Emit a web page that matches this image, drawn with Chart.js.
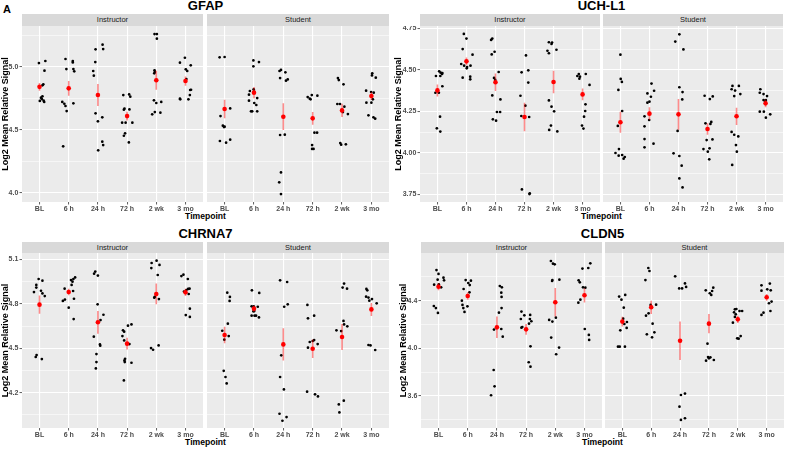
<!DOCTYPE html>
<html><head><meta charset="utf-8">
<script src="https://cdn.jsdelivr.net/npm/chart.js@4.4.0/dist/chart.umd.min.js"></script>
<style>
html,body{margin:0;padding:0;background:#fff}
body{width:787px;height:449px;overflow:hidden;position:relative;font-family:'Liberation Sans',Arial,sans-serif}
canvas{position:absolute}
.tx{position:absolute;white-space:nowrap;line-height:1}
.strip{position:absolute;background:#D9D9D9;color:#1A1A1A;font-size:7.5px;text-align:center;white-space:nowrap}
</style></head><body>
<script>
// ---------- text ----------
const panelLetter = 'A';
const categories = ['BL', '6 h', '24 h', '72 h', '2 wk', '3 mo'];
const facetNames = ['Instructor', 'Student'];
const xAxisTitle = 'Timepoint';
const yAxisTitle = 'Log2 Mean Relative Signal';
const geneTitles = ['GFAP', 'UCH-L1', 'CHRNA7', 'CLDN5'];

// ---------- y ticks ----------
const gfapYTicks = [4.0, 4.5, 5.0];
const gfapYTickLabels = ['4.0', '4.5', '5.0'];
const gfapYMinor = [4.25, 4.75, 5.25];
const uchl1YTicks = [3.75, 4.0, 4.25, 4.5, 4.75];
const uchl1YTickLabels = ['3.75', '4.00', '4.25', '4.50', '4.75'];
const uchl1YMinor = [3.875, 4.125, 4.375, 4.625];
const chrna7YTicks = [4.2, 4.5, 4.8, 5.1];
const chrna7YTickLabels = ['4.2', '4.5', '4.8', '5.1'];
const chrna7YMinor = [4.05, 4.35, 4.65, 4.95];
const cldn5YTicks = [3.6, 4.0, 4.4];
const cldn5YTickLabels = ['3.6', '4.0', '4.4'];
const cldn5YMinor = [3.4, 3.8, 4.2, 4.6];

// ---------- GFAP ----------
const gfapInstructorValues = [
  [5.029,5.045,4.968,4.860,4.852,4.765,4.754,4.743,4.728,4.730,4.720],
  [5.061,5.045,5.034,4.981,4.981,4.963,4.720,4.706,4.688,4.648,4.709,4.368],
  [5.175,5.140,5.138,5.037,4.966,4.929,4.630,4.598,4.566,4.405,4.378,4.336],
  [4.775,4.780,4.762,4.667,4.659,4.661,4.556,4.556,4.556,4.471,4.452,4.399],
  [5.259,5.259,5.222,4.971,4.958,4.947,4.733,4.720,4.712,4.635,4.640,4.622],
  [5.071,5.032,5.011,4.979,4.966,4.902,4.815,4.817,4.775,4.746,4.741,4.741]
];
const gfapInstructorJitter = [
  [-0.02,0.20,0.17,0.13,0.10,0.10,0.05,0.08,0.01,0.14,0.16],
  [-0.11,0.14,0.14,-0.08,0.16,0.19,-0.22,-0.15,-0.11,-0.07,0.16,-0.19],
  [0.16,0.18,-0.08,-0.09,-0.16,-0.14,-0.08,0.15,0,0.15,0.18,0.01],
  [-0.13,0.07,0.11,-0.09,-0.11,0.08,-0.17,-0.05,0.18,-0.07,-0.11,0.06],
  [-0.06,0.02,0.02,-0.06,-0.05,-0.07,-0.08,0.17,0,0.14,-0.05,-0.14],
  [-0.02,-0.19,0.18,0.01,0.06,0.03,0.16,0.19,0.15,-0.19,-0.18,0.10]
];
const gfapInstructorMean = [4.840,4.828,4.775,4.608,4.892,4.886];
const gfapInstructorSE = [0.030,0.058,0.087,0.035,0.075,0.037];

const gfapStudentValues = [
  [5.074,5.077,4.669,4.608,4.532,4.521,4.524,4.410,4.397,4.421],
  [5.050,5.037,5.003,4.820,4.807,4.802,4.778,4.751,4.730,4.712,4.696,4.646,4.646,4.646],
  [4.974,4.966,4.955,4.910,4.899,4.889,4.458,4.460,4.161,4.082,3.989],
  [4.775,4.759,4.746,4.741,4.770,4.476,4.476,4.378,4.347,4.347],
  [4.910,4.894,4.860,4.704,4.704,4.683,4.640,4.624,4.394,4.381,4.384],
  [4.947,4.931,4.913,4.810,4.799,4.794,4.741,4.714,4.714,4.614,4.598,4.587]
];
const gfapStudentJitter = [
  [-0.17,0,0.19,-0.14,-0.06,-0.02,0,-0.16,0.05,0.19],
  [-0.02,0.17,-0.02,-0.01,-0.14,0,-0.17,0.11,-0.17,0.01,0.08,-0.10,-0.06,0.11],
  [-0.08,-0.13,0.07,-0.11,0.15,0.09,-0.11,0.05,-0.08,-0.14,-0.08],
  [-0.03,-0.17,-0.10,-0.07,0.16,0.06,0.15,-0.02,-0.02,0.03],
  [-0.14,-0.11,0.05,-0.16,-0.07,0.08,0.03,0.20,-0.06,-0.03,0.13],
  [0.03,0.02,0.15,-0.18,-0.01,0.08,0.05,-0.17,0,-0.10,0.07,0.13]
];
const gfapStudentMean = [4.664,4.794,4.603,4.590,4.653,4.767];
const gfapStudentSE = [0.074,0.045,0.106,0.050,0.053,0.032];

// ---------- UCH-L1 ----------
const uchl1InstructorValues = [
  [4.491,4.483,4.481,4.475,4.463,4.463,4.401,4.362,4.362,4.218,4.148,4.128],
  [4.716,4.688,4.625,4.591,4.535,4.525,4.525,4.517,4.509,4.459,4.443,4.453],
  [4.680,4.688,4.609,4.593,4.487,4.451,4.439,4.346,4.322,4.246,4.246,4.202,4.194],
  [4.587,4.485,4.497,4.423,4.344,4.284,4.222,4.216,3.780,3.756,3.752],
  [4.666,4.664,4.656,4.615,4.600,4.621,4.316,4.278,4.250,4.164,4.138,4.129],
  [4.463,4.475,4.459,4.447,4.475,4.409,4.292,4.252,4.218,4.164,4.146]
];
const uchl1InstructorJitter = [
  [0.06,0.11,0.17,0.16,-0.05,0.10,0.17,-0.07,0.05,0.09,-0.02,0.10],
  [-0.09,0,-0.13,0.21,-0.18,-0.08,0.14,0.02,0.01,0.13,0.13,-0.13],
  [-0.15,-0.11,-0.03,-0.13,0.11,-0.05,-0.01,-0.11,0.17,0.05,0.16,-0.09,0.02],
  [0.05,-0.10,0.13,0.13,-0.14,0.03,-0.11,0.16,-0.09,0.18,0.17],
  [-0.16,-0.05,-0.07,-0.21,-0.16,0.10,-0.16,-0.07,0.02,-0.09,-0.15,0.13],
  [-0.18,-0.13,-0.09,-0.11,0.11,0.24,0.10,0.09,0.05,-0.02,0.03]
];
const uchl1InstructorMean = [4.376,4.551,4.425,4.216,4.427,4.352];
const uchl1InstructorSE = [0.036,0.024,0.053,0.086,0.068,0.035];

const uchl1StudentValues = [
  [4.591,4.445,4.427,4.379,4.252,4.162,4.023,3.999,3.983,3.987,3.975,3.965],
  [4.417,4.358,4.374,4.338,4.308,4.302,4.220,4.198,4.160,4.083,4.055,4.033],
  [4.714,4.670,4.623,4.395,4.366,4.322,4.132,3.997,3.981,3.923,3.846,3.792],
  [4.344,4.324,4.340,4.178,4.186,4.174,4.077,4.081,4.023,4.027,4.007,3.961],
  [4.403,4.403,4.383,4.375,4.354,4.342,4.126,4.109,4.099,4.047,4.007,3.927],
  [4.383,4.362,4.354,4.342,4.318,4.318,4.308,4.248,4.248,4.232,4.212]
];
const uchl1StudentJitter = [
  [0,0.01,0.05,-0.07,0.06,-0.09,-0.05,-0.17,-0.06,0.06,0.15,0.11],
  [0.07,-0.07,0.16,0.05,0,-0.07,-0.17,-0.01,-0.17,-0.17,0.14,-0.17],
  [0.03,-0.11,0.17,0.03,0.14,0.13,-0.03,-0.17,0.03,0.11,0.03,0.14],
  [-0.10,0.08,0.18,-0.07,0.13,0.10,-0.03,0.17,-0.14,0.07,0.01,0.06],
  [-0.14,0.08,-0.17,-0.05,0.13,-0.08,-0.17,-0.08,0.06,-0.02,0.01,-0.15],
  [-0.18,-0.20,-0.07,0.05,-0.07,0.01,-0.01,-0.20,-0.06,0.16,0.01]
];
const uchl1StudentMean = [4.184,4.236,4.232,4.144,4.220,4.298];
const uchl1StudentSE = [0.063,0.038,0.093,0.035,0.052,0.024];

// ---------- CHRNA7 ----------
const chrna7InstructorValues = [
  [4.967,4.956,4.927,4.909,4.888,4.879,4.870,4.852,4.454,4.441,4.427],
  [4.978,4.967,4.960,4.949,4.927,4.902,4.886,4.828,4.819,4.834,4.774,4.697],
  [5.017,5.003,4.990,4.796,4.726,4.690,4.578,4.526,4.517,4.461,4.407,4.364],
  [4.661,4.652,4.621,4.612,4.582,4.553,4.528,4.429,4.418,4.407,4.402,4.283],
  [5.091,5.075,5.062,5.041,4.994,4.846,4.841,4.832,4.501,4.490,4.519],
  [4.996,4.987,4.967,4.900,4.902,4.893,4.882,4.866,4.767,4.724,4.711]
];
const chrna7InstructorJitter = [
  [-0.03,0.10,-0.11,-0.11,0.05,-0.19,0.10,0.18,-0.10,-0.13,0.08],
  [0.22,0.16,0.08,0.13,0.10,-0.14,0.15,-0.13,-0.20,0.18,0,0.17],
  [-0.09,-0.13,0,-0.01,0.19,0.09,-0.14,0.07,0.08,-0.05,-0.05,-0.07],
  [0.15,0.03,-0.14,-0.10,-0.16,-0.10,0.08,-0.07,-0.09,-0.08,0.15,-0.11],
  [0.01,-0.16,0.11,-0.17,0.05,-0.05,-0.07,0.09,-0.18,-0.11,0.08],
  [-0.07,-0.14,0.08,0.09,0.14,0.03,-0.05,0.11,0.15,0.01,0.15]
];
const chrna7InstructorMean = [4.794,4.879,4.675,4.531,4.866,4.877];
const chrna7InstructorSE = [0.062,0.022,0.077,0.040,0.070,0.025];

const chrna7StudentValues = [
  [4.875,4.846,4.819,4.666,4.618,4.582,4.558,4.348,4.306,4.263],
  [4.891,4.873,4.783,4.783,4.780,4.751,4.749,4.720,4.720,4.720,4.708],
  [4.958,4.947,4.796,4.780,4.452,4.306,4.222,4.058,4.036,4.011],
  [4.792,4.720,4.702,4.555,4.549,4.542,4.528,4.504,4.207,4.189,4.175],
  [4.936,4.909,4.902,4.684,4.661,4.648,4.621,4.616,4.146,4.121,4.067],
  [4.900,4.891,4.848,4.842,4.832,4.821,4.803,4.522,4.519,4.488]
];
const chrna7StudentJitter = [
  [0.09,0.18,0.17,0.11,-0.08,0.14,-0.01,-0.03,0.03,0.07],
  [-0.07,0.18,-0.08,-0.01,0.13,0.01,-0.02,-0.08,0.02,0.07,0.17],
  [-0.11,0.13,0.15,0.03,-0.07,-0.11,0.02,-0.13,0.11,-0.03],
  [-0.18,0.05,-0.16,0.05,0,-0.10,0.17,-0.16,-0.19,0.08,0.18],
  [0.07,0.02,0.17,0.05,0.07,0.18,-0.19,-0.03,0.06,-0.11,-0.09],
  [-0.17,-0.14,-0.18,-0.10,0.02,-0.07,0.18,-0.10,-0.03,0.13]
];
const chrna7StudentMean = [4.589,4.767,4.526,4.497,4.576,4.762];
const chrna7StudentSE = [0.056,0.020,0.109,0.062,0.088,0.044];

// ---------- CLDN5 ----------
const cldn5InstructorValues = [
  [4.657,4.624,4.576,4.593,4.571,4.534,4.537,4.512,4.355,4.338,4.297],
  [4.573,4.568,4.548,4.531,4.498,4.470,4.400,4.364,4.338,4.352,4.305],
  [4.523,4.512,4.467,4.431,4.338,4.299,4.157,4.162,4.098,3.818,3.681,3.606],
  [4.308,4.277,4.280,4.246,4.246,4.227,4.207,4.179,4.173,4.017,3.883,3.846],
  [4.733,4.710,4.705,4.573,4.565,4.576,4.238,4.224,4.257,4.090,4.006,3.950],
  [4.669,4.674,4.571,4.554,4.512,4.509,4.383,4.408,4.162,4.112,4.070,4.713]
];
const cldn5InstructorJitter = [
  [-0.07,0,-0.03,0.17,0.19,-0.15,0.01,0.09,-0.16,-0.09,-0.02],
  [-0.07,0.11,0.02,0.07,-0.14,0.06,-0.20,-0.18,-0.15,-0.01,-0.11],
  [0.10,0.17,0.15,0.16,0.16,0.07,-0.10,0.15,0.20,-0.11,-0.08,-0.20],
  [-0.16,-0.06,0.14,-0.18,0.13,0.18,0.10,-0.13,-0.16,0.15,0.09,0.15],
  [-0.15,-0.08,-0.02,-0.10,-0.11,0.14,-0.21,-0.10,0.02,-0.14,0.13,0.03],
  [-0.07,0.13,-0.20,-0.16,-0.05,0.03,-0.21,-0.14,0.01,0.15,0.16,0.20]
];
const cldn5InstructorMean = [4.517,4.439,4.176,4.159,4.386,4.445];
const cldn5InstructorSE = [0.030,0.032,0.090,0.045,0.120,0.060];

const cldn5StudentValues = [
  [4.448,4.434,4.408,4.341,4.249,4.221,4.204,4.171,4.151,4.014,4.014,4.014],
  [4.674,4.649,4.573,4.366,4.364,4.294,4.274,4.207,4.134,4.117,4.092],
  [4.604,4.545,4.515,4.503,4.503,3.608,3.620,3.510,3.399,3.413],
  [4.487,4.509,4.481,4.462,4.448,4.039,3.927,3.916,3.924,3.896,3.902],
  [4.327,4.330,4.313,4.313,4.302,4.285,4.263,4.215,4.084,4.081,4.103],
  [4.529,4.543,4.484,4.495,4.487,4.392,4.378,4.299,4.280,4.313]
];
const cldn5StudentJitter = [
  [0.10,-0.11,-0.03,0.05,0.03,0.16,0.07,0.15,-0.07,-0.15,-0.09,0.09],
  [-0.10,-0.06,-0.20,0.17,-0.02,-0.09,-0.18,0.05,0.11,-0.15,0.03],
  [-0.17,0.17,0.21,-0.03,0.07,0.03,0.17,-0.02,0.03,0.17],
  [-0.11,0.15,0.11,0.03,0.08,-0.05,-0.03,0,0.05,-0.10,0.17],
  [-0.10,-0.05,0.06,0.15,-0.13,-0.07,-0.10,-0.17,-0.02,0.03,0.10],
  [-0.18,0.11,-0.18,0.02,0.14,0.17,0.08,-0.11,-0.18,0.13]
];
const cldn5StudentMean = [4.224,4.344,4.064,4.207,4.243,4.428];
const cldn5StudentSE = [0.040,0.056,0.162,0.080,0.030,0.028];

// ---------- layout (positions / styles) ----------
const FONT = "'Liberation Sans', Arial, sans-serif";
const panels = [
  {title: geneTitles[0], left: 0, plotTop: 26, plotBottom: 202, stripTop: 14, inst: [22, 203], stud: [207, 389],
   yMin: 3.926, yMax: 5.323, ticks: gfapYTicks, labels: gfapYTickLabels, minor: gfapYMinor, titlePad: 0.2,
   titleBase: 10, xTitleBase: 219.5,
   data: [[gfapInstructorValues, gfapInstructorJitter, gfapInstructorMean, gfapInstructorSE],
          [gfapStudentValues, gfapStudentJitter, gfapStudentMean, gfapStudentSE]]},
  {title: geneTitles[1], left: 390, plotTop: 26, plotBottom: 202, stripTop: 14, inst: [420, 600], stud: [603, 783],
   yMin: 3.704, yMax: 4.764, ticks: uchl1YTicks, labels: uchl1YTickLabels, minor: uchl1YMinor, titlePad: 3.1,
   titleBase: 10, xTitleBase: 219.5,
   data: [[uchl1InstructorValues, uchl1InstructorJitter, uchl1InstructorMean, uchl1InstructorSE],
          [uchl1StudentValues, uchl1StudentJitter, uchl1StudentMean, uchl1StudentSE]]},
  {title: geneTitles[2], left: 0, plotTop: 253, plotBottom: 428, stripTop: 242, inst: [22, 203], stud: [207, 389],
   yMin: 3.962, yMax: 5.1425, ticks: chrna7YTicks, labels: chrna7YTickLabels, minor: chrna7YMinor, titlePad: 0.2,
   titleBase: 238, xTitleBase: 445,
   data: [[chrna7InstructorValues, chrna7InstructorJitter, chrna7InstructorMean, chrna7InstructorSE],
          [chrna7StudentValues, chrna7StudentJitter, chrna7StudentMean, chrna7StudentSE]]},
  {title: geneTitles[3], left: 390, plotTop: 253, plotBottom: 428, stripTop: 242, inst: [421, 602], stud: [605, 784],
   yMin: 3.331, yMax: 4.80, ticks: cldn5YTicks, labels: cldn5YTickLabels, minor: cldn5YMinor, titlePad: 8.0,
   titleBase: 238, xTitleBase: 445,
   data: [[cldn5InstructorValues, cldn5InstructorJitter, cldn5InstructorMean, cldn5InstructorSE],
          [cldn5StudentValues, cldn5StudentJitter, cldn5StudentMean, cldn5StudentSE]]}
];
const X_AXIS_H = 12;

const bgPlugin = {
  id: 'panelBg',
  beforeDraw(chart) {
    const {ctx, chartArea: a} = chart;
    ctx.save();
    ctx.fillStyle = '#EBEBEB';
    ctx.fillRect(a.left, a.top, a.right - a.left, a.bottom - a.top);
    ctx.restore();
  }
};

function addText(text, size, weight, color, x, baseline, align) {
  const d = document.createElement('div');
  d.className = 'tx';
  d.textContent = text;
  d.style.fontSize = size + 'px';
  d.style.fontWeight = weight;
  d.style.color = color;
  d.style.top = (baseline - 0.8465 * size) + 'px';
  if (align === 'center') {
    d.style.left = (x - 150) + 'px';
    d.style.width = '300px';
    d.style.textAlign = 'center';
  } else {
    d.style.left = x + 'px';
  }
  document.body.appendChild(d);
}

function addStrip(text, x0, x1, top, bottom) {
  const d = document.createElement('div');
  d.className = 'strip';
  d.textContent = text;
  d.style.left = x0 + 'px';
  d.style.top = top + 'px';
  d.style.width = (x1 - x0) + 'px';
  d.style.height = (bottom - top) + 'px';
  d.style.lineHeight = (bottom - top) + 'px';
  document.body.appendChild(d);
}

function facetChart(p, k) {
  const isInst = k === 0;
  const left = isInst ? p.left : p.stud[0];
  const right = isInst ? p.inst[1] : p.stud[1];
  const axisW = isInst ? p.inst[0] - p.left : 0;
  const w = right - left;
  const h = p.plotBottom - p.plotTop + X_AXIS_H;
  const cv = document.createElement('canvas');
  cv.width = w; cv.height = h;
  cv.style.left = left + 'px'; cv.style.top = p.plotTop + 'px';
  cv.style.width = w + 'px'; cv.style.height = h + 'px';
  document.body.appendChild(cv);

  const [values, jitter, mean, se] = p.data[k];
  const pts = [];
  values.forEach((arr, i) => arr.forEach((v, j) => pts.push({x: i + 1 + jitter[i][j], y: v})));
  const means = mean.map((m, i) => ({x: i + 1, y: m}));
  const bars = [];
  mean.forEach((m, i) => { bars.push({x: i + 1, y: m - se[i]}, {x: i + 1, y: m + se[i]}, {x: i + 1, y: null}); });

  new Chart(cv, {
    type: 'scatter',
    data: {datasets: [
      {data: means, pointRadius: 2.3, pointBackgroundColor: '#FF0000', pointBorderWidth: 0, order: 0},
      {data: bars, showLine: true, borderColor: 'rgba(255,0,0,0.45)', borderWidth: 1.6, pointRadius: 0, spanGaps: false, order: 1},
      {data: pts, pointRadius: 1.35, pointBackgroundColor: '#000000', pointBorderWidth: 0, order: 2}
    ]},
    options: {
      responsive: false, animation: false, events: [], devicePixelRatio: 1,
      layout: {padding: 0, autoPadding: false},
      plugins: {legend: {display: false}, tooltip: {enabled: false}},
      scales: {
        x: {
          type: 'linear', min: 0.4, max: 6.6,
          afterBuildTicks: s => { s.ticks = categories.map((c, i) => ({value: i + 1})); },
          afterFit: s => { s.height = X_AXIS_H; s.paddingLeft = 0; s.paddingRight = 0; },
          ticks: {callback: v => categories[Math.round(v) - 1], font: {family: FONT, size: 7, weight: 'bold'},
                  color: '#4D4D4D', padding: 0, maxRotation: 0, autoSkip: false},
          grid: {color: '#FFFFFF', lineWidth: 1.1, tickColor: '#333333', tickLength: 2.5, tickWidth: 0.8},
          border: {display: false}
        },
        y: {
          type: 'linear', min: p.yMin, max: p.yMax,
          afterBuildTicks: s => {
            s.ticks = p.ticks.map((v, i) => ({value: v, isMajor: true, lbl: p.labels[i]}))
              .concat(p.minor.map(v => ({value: v, isMajor: false, lbl: ''})))
              .sort((a, b) => a.value - b.value);
          },
          afterFit: s => { s.width = axisW; s.paddingTop = 0; s.paddingBottom = 0; },
          ticks: {display: isInst, callback: (v, i, t) => t[i].lbl, font: {family: FONT, size: 7, weight: 'bold'},
                  color: '#4D4D4D', padding: 1.2, autoSkip: false},
          grid: {color: '#FFFFFF', lineWidth: c => (c.tick && c.tick.isMajor) ? 1.1 : 0.55,
                 drawTicks: isInst, tickColor: c => (c.tick && c.tick.isMajor) ? '#333333' : 'rgba(0,0,0,0)',
                 tickLength: 2.5, tickWidth: 0.8},
          border: {display: false},
          title: {display: isInst, text: yAxisTitle, color: '#000000',
                  font: {family: FONT, size: 9, weight: 'bold'}, padding: {top: p.titlePad, bottom: 0}}
        }
      }
    },
    plugins: [bgPlugin]
  });
}

addText(panelLetter, 11, 'bold', '#000', 3, 13.3);
panels.forEach(p => {
  const cx = (p.inst[0] + p.stud[1]) / 2;
  addText(p.title, 13, 'bold', '#000', cx, p.titleBase, 'center');
  addStrip(facetNames[0], p.inst[0], p.inst[1], p.stripTop, p.plotTop);
  addStrip(facetNames[1], p.stud[0], p.stud[1], p.stripTop, p.plotTop);
  addText(xAxisTitle, 8.6, 'bold', '#000', cx, p.xTitleBase, 'center');
  facetChart(p, 0);
  facetChart(p, 1);
});
</script>
</body></html>
